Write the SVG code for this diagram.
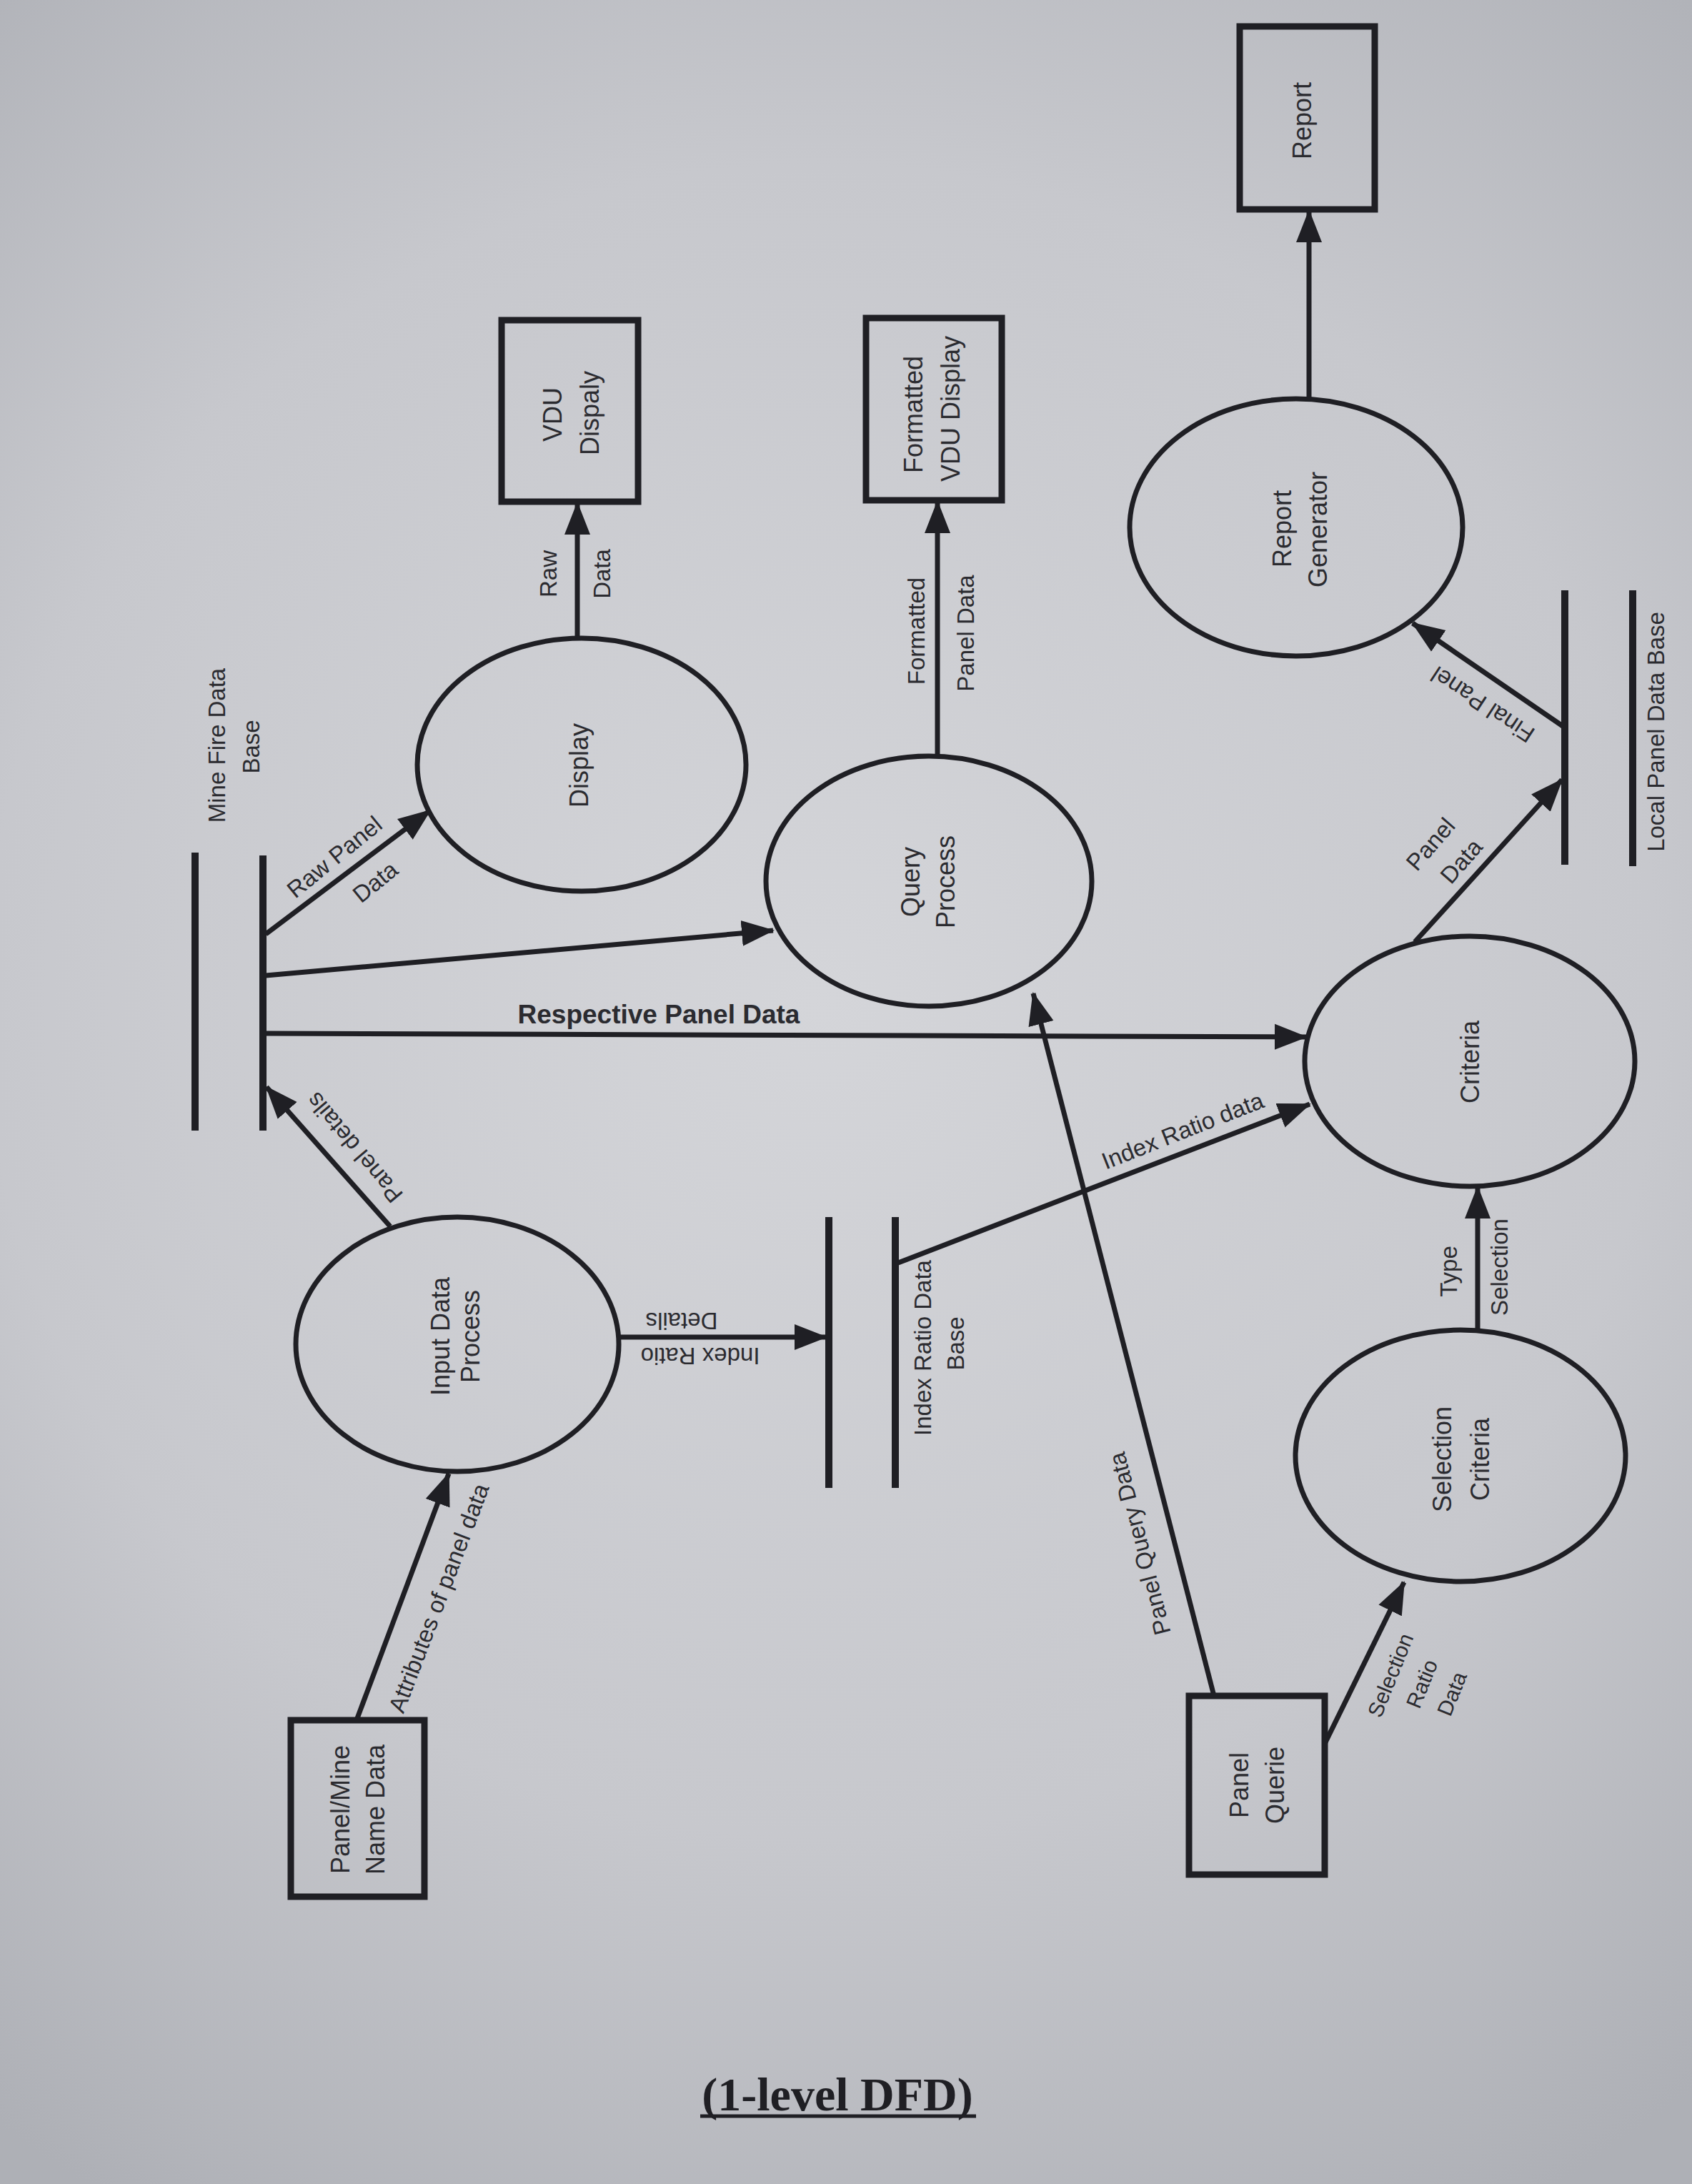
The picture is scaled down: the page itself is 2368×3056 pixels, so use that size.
<svg xmlns="http://www.w3.org/2000/svg" width="2368" height="3056" viewBox="0 0 2368 3056">
<defs>
<radialGradient id="bg" cx="1150" cy="1400" r="1950" gradientUnits="userSpaceOnUse">
<stop offset="0" stop-color="#d4d5d9"/>
<stop offset="0.6" stop-color="#c7c8cd"/>
<stop offset="1" stop-color="#aeb0b6"/>
</radialGradient>
<marker id="arr" markerUnits="userSpaceOnUse" markerWidth="46" markerHeight="40" refX="44" refY="20" orient="auto">
<path d="M0,2 L46,20 L0,38 z" fill="#1f1f24"/>
</marker>
<style>
.box{fill:none;stroke:#1f1f24;stroke-width:9}
.proc{fill:none;stroke:#1f1f24;stroke-width:7}
.store{stroke:#1f1f24;stroke-width:10;fill:none}
.flow{stroke:#1f1f24;stroke-width:7;fill:none;marker-end:url(#arr)}
text{font-family:"Liberation Sans",Arial,sans-serif;fill:#2b2b30;text-anchor:middle;dominant-baseline:central}
.n{font-size:36px}
.f{font-size:33px}
.s{font-size:30px}
.b{font-size:37px;font-weight:bold}
.title{font-family:"Liberation Serif","Times New Roman",serif;font-size:66px;font-weight:bold;fill:#1f1f24}
</style>
</defs>
<rect x="0" y="0" width="2368" height="3056" fill="url(#bg)"/>

<g id="connectors">
<path class="flow" d="M808,893 L808,704"/>
<path class="flow" d="M1832,558 L1832,295"/>
<path class="flow" d="M1312,1058 L1312,702"/>
<path class="flow" d="M372,1307 L602,1134"/>
<path class="flow" d="M372,1365 L1082,1302"/>
<path class="flow" d="M372,1446 L1828,1451"/>
<path class="flow" d="M546,1716 L373,1521"/>
<path class="flow" d="M866,1871 L1156,1871"/>
<path class="flow" d="M1257,1767 L1833,1545"/>
<path class="flow" d="M1699,2373 L1446,1390"/>
<path class="flow" d="M1980,1318 L2186,1091"/>
<path class="flow" d="M2187,1016 L1977,872"/>
<path class="flow" d="M2068,1861 L2068,1661"/>
<path class="flow" d="M1854,2440 L1965,2214"/>
<path class="flow" d="M499,2407 L628,2062"/>
</g>

<g id="connector-labels">
<text class="f" transform="translate(767,803) rotate(-90)">Raw</text>
<text class="f" transform="translate(842,803) rotate(-90)">Data</text>
<text class="f" transform="translate(1282,883) rotate(-90)">Formatted</text>
<text class="f" transform="translate(1351,886) rotate(-90)">Panel Data</text>
<text class="f" transform="translate(468,1199) rotate(-39)">Raw Panel</text>
<text class="f" transform="translate(525,1234) rotate(-39)">Data</text>
<text class="b" x="922" y="1419">Respective Panel Data</text>
<text class="f" transform="translate(496,1606) rotate(-130)">Panel details</text>
<text class="f" transform="translate(954,1848) rotate(180)">Details</text>
<text class="f" transform="translate(980,1897) rotate(180)">Index Ratio</text>
<text class="f" transform="translate(1655,1582) rotate(-21.5)">Index Ratio data</text>
<text class="f" transform="translate(1595,2160) rotate(-104.4)">Panel Query Data</text>
<text class="f" transform="translate(2002,1181) rotate(-49)">Panel</text>
<text class="f" transform="translate(2045,1205) rotate(-49)">Data</text>
<text class="f" transform="translate(2075,986) rotate(-146.6)">Final Panel</text>
<text class="f" transform="translate(2027,1779) rotate(-90)">Type</text>
<text class="f" transform="translate(2098,1773) rotate(-90)">Selection</text>
<text class="s" transform="translate(1946,2344) rotate(-68)">Selection</text>
<text class="s" transform="translate(1990,2356) rotate(-68)">Ratio</text>
<text class="s" transform="translate(2032,2370) rotate(-68)">Data</text>
<text class="f" transform="translate(614,2236) rotate(-69.2)">Attributes of panel data</text>
</g>

<g id="report">
<rect class="box" x="1735" y="37" width="189" height="256"/>
<text class="n" transform="translate(1822,169) rotate(-90)">Report</text>
</g>
<g id="vdu-display">
<rect class="box" x="702" y="448" width="191" height="254"/>
<text class="n" transform="translate(773,580) rotate(-90)">VDU</text>
<text class="n" transform="translate(825,578) rotate(-90)">Dispaly</text>
</g>
<g id="formatted-vdu-display">
<rect class="box" x="1212" y="445" width="190" height="255"/>
<text class="n" transform="translate(1278,580) rotate(-90)">Formatted</text>
<text class="n" transform="translate(1330,572) rotate(-90)">VDU Display</text>
</g>
<g id="panel-mine-name-data">
<rect class="box" x="407" y="2407" width="187" height="247"/>
<text class="n" transform="translate(476,2532) rotate(-90)">Panel/Mine</text>
<text class="n" transform="translate(525,2532) rotate(-90)">Name Data</text>
</g>
<g id="panel-querie">
<rect class="box" x="1664" y="2373" width="190" height="250"/>
<text class="n" transform="translate(1734,2498) rotate(-90)">Panel</text>
<text class="n" transform="translate(1784,2498) rotate(-90)">Querie</text>
</g>

<g id="display">
<ellipse class="proc" cx="814" cy="1070" rx="230" ry="177"/>
<text class="n" transform="translate(810,1071) rotate(-90)">Display</text>
</g>
<g id="query-process">
<ellipse class="proc" cx="1300" cy="1233" rx="228" ry="175"/>
<text class="n" transform="translate(1274,1234) rotate(-90)">Query</text>
<text class="n" transform="translate(1323,1234) rotate(-90)">Process</text>
</g>
<g id="criteria">
<ellipse class="proc" cx="2057" cy="1485" rx="231" ry="175"/>
<text class="n" transform="translate(2057,1486) rotate(-90)">Criteria</text>
</g>
<g id="input-data-process">
<ellipse class="proc" cx="640" cy="1881" rx="226" ry="178"/>
<text class="n" transform="translate(616,1870) rotate(-90)">Input Data</text>
<text class="n" transform="translate(658,1870) rotate(-90)">Process</text>
</g>
<g id="selection-criteria">
<ellipse class="proc" cx="2044" cy="2037" rx="231" ry="176"/>
<text class="n" transform="translate(2018,2042) rotate(-90)">Selection</text>
<text class="n" transform="translate(2071,2042) rotate(-90)">Criteria</text>
</g>
<g id="report-generator">
<ellipse class="proc" cx="1814" cy="738" rx="233" ry="180"/>
<text class="n" transform="translate(1794,740) rotate(-90)">Report</text>
<text class="n" transform="translate(1844,741) rotate(-90)">Generator</text>
</g>

<g id="mine-fire-data-base">
<path class="store" d="M273,1193 L273,1582 M368,1197 L368,1582"/>
<text class="f" transform="translate(303,1043) rotate(-90)">Mine Fire Data</text>
<text class="f" transform="translate(351,1045) rotate(-90)">Base</text>
</g>
<g id="index-ratio-data-base">
<path class="store" d="M1160,1703 L1160,2082 M1253,1703 L1253,2082"/>
<text class="f" transform="translate(1291,1886) rotate(-90)">Index Ratio Data</text>
<text class="f" transform="translate(1337,1880) rotate(-90)">Base</text>
</g>
<g id="local-panel-data-base">
<path class="store" d="M2190,826 L2190,1210 M2285,826 L2285,1212"/>
<text class="f" transform="translate(2317,1024) rotate(-90)">Local Panel Data Base</text>
</g>

<g id="title">
<text class="title" x="1172" y="2930">(1-level DFD)</text>
<path d="M980,2961 L1366,2961" stroke="#1f1f24" stroke-width="5"/>
</g>
</svg>
